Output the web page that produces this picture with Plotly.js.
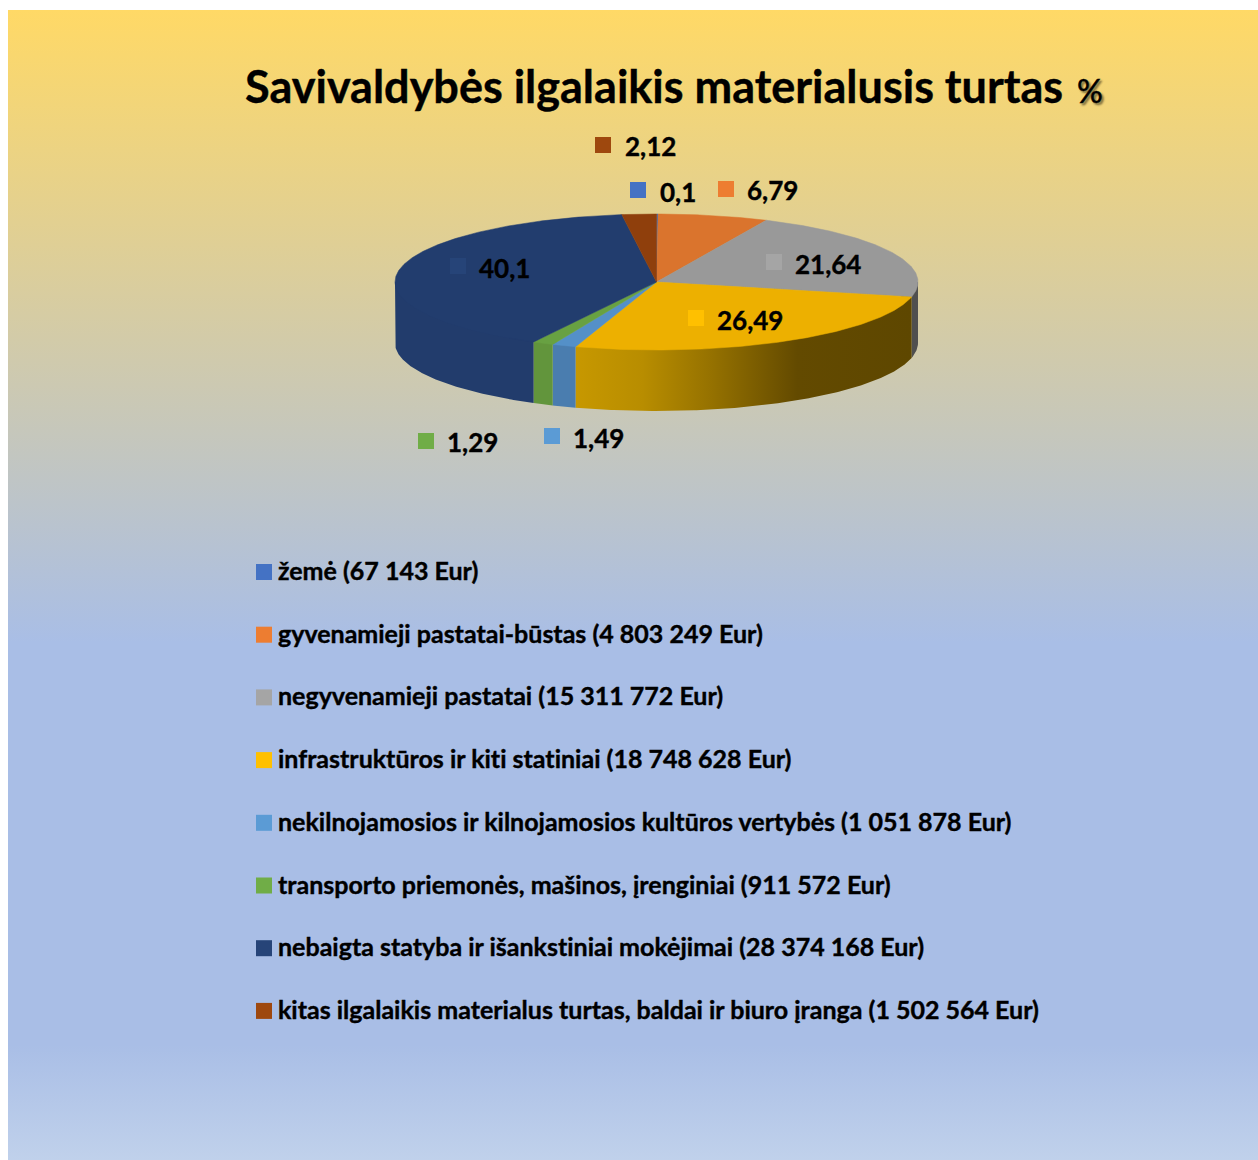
<!DOCTYPE html>
<html>
<head>
<meta charset="utf-8">
<script src="https://cdn.plot.ly/plotly-3.0.1.min.js"></script>
<style>
html,body{margin:0;padding:0;background:#fff;width:1258px;height:1160px;overflow:hidden}
#bg{position:absolute;left:8px;top:10px;width:1250px;height:1150px;
background:linear-gradient(180deg,#FFD966 0%,#A9BEE6 55%,#A9BEE6 90%,#C0D1EB 100%)}
#chart{position:absolute;left:0;top:0;width:1258px;height:1160px}
svg text{font-variant-ligatures:none;font-feature-settings:"liga" 0,"clig" 0;stroke:#000;stroke-width:.4px}
</style>
</head>
<body>
<div id="bg"></div>
<div id="chart"></div>
<script>
// ---------- data ----------
const categories = ["žemė (67 143 Eur)","gyvenamieji pastatai-būstas (4 803 249 Eur)","negyvenamieji pastatai (15 311 772 Eur)","infrastruktūros ir kiti statiniai (18 748 628 Eur)","nekilnojamosios ir kilnojamosios kultūros vertybės (1 051 878 Eur)","transporto priemonės, mašinos, įrenginiai (911 572 Eur)","nebaigta statyba ir išankstiniai mokėjimai (28 374 168 Eur)","kitas ilgalaikis materialus turtas, baldai ir biuro įranga (1 502 564 Eur)"];
const percents = [0.1,6.79,21.64,26.49,1.49,1.29,40.1,2.12];
const percentLabels = ["0,1","6,79","21,64","26,49","1,49","1,29","40,1","2,12"];

// ---------- styles and positions ----------
const keyColors = ["#4472C4","#ED7D31","#A5A5A5","#FFC000","#5B9BD5","#70AD47","#264478","#9E480E"];
const topColors = ["#3F69B4","#DA742D","#999999","#EDB000","#5490C8","#68A142","#223D6E","#8F3F0C"];
const wallColors = ["#3A60A5","#C56826","#4F4F4F","#C49500","#4A7DAF","#62953C","#223C6C","#7F380A"];
const labelKeyX = [638,726,774,696,552,426,458,603];
const labelKeyY = [190,189,262,318,436,441,266,145];
const labelTextX = [660,747,795,717,573,447,479,625];
const labelTextY = [191.5,189.5,263.5,319.5,437.5,441.5,267.5,145.5];
const legendKeyX = 264, legendTextX = 278, legendTop = 572, legendStep = 62.7;
const cx = 656.5, cy = 282, rx = 261.5, ry = 68, depth = 61, hiddenInset = 0.96;
const FONT = "Lato, Carlito, 'Open Sans', sans-serif";

// ---------- geometry from values ----------
const total = percents.reduce((a,b)=>a+b,0);
const px = (t,k=1) => cx + k*rx*Math.sin(t);
const py = (t,k=1) => cy - k*ry*Math.cos(t);
function arc(a,b){
  const n = Math.max(2,Math.ceil(Math.abs(b-a)/0.01));
  const out=[];
  for(let i=0;i<=n;i++) out.push(a+(b-a)*i/n);
  return out;
}
let acc = 0;
const spans = percents.map(v=>{const a=acc/total*2*Math.PI; acc+=v; return [a,acc/total*2*Math.PI];});

const traces = [];
// side walls (front half only); their upper edge runs hidden beneath the top face
spans.forEach((s,i)=>{
  const a=Math.max(s[0],Math.PI/2), b=Math.min(s[1],1.5*Math.PI);
  if(b<=a) return;
  const ts=arc(a,b), rev=ts.slice().reverse();
  const t={x:ts.map(u=>px(u,hiddenInset)).concat([px(b)],rev.map(u=>px(u)),[px(a)]),
           y:ts.map(u=>py(u,hiddenInset)).concat([py(b)],rev.map(u=>py(u)+depth),[py(a)]),
           mode:"lines",fill:"toself",line:{width:0},
           fillcolor:wallColors[i],hoverinfo:"skip",showlegend:false};
  if(i===3){
    t.fillgradient={type:"horizontal",start:px(b),stop:px(a),
      colorscale:[[0,"#C79800"],[0.2,"#B88D00"],[0.4,"#967200"],[0.66,"#634A00"],[1,"#5E4700"]]};
  }
  traces.push(t);
});
// top faces
spans.forEach((s,i)=>{
  const ts=arc(s[0],s[1]);
  traces.push({x:[cx].concat(ts.map(u=>px(u)),[cx]),y:[cy].concat(ts.map(u=>py(u)),[cy]),
    mode:"lines",fill:"toself",line:{width:0.5,color:topColors[i]},fillcolor:topColors[i],
    name:categories[i],text:percentLabels[i],hoverinfo:"name+text",showlegend:false});
});
// value labels: key squares
traces.push({x:labelKeyX,y:labelKeyY,mode:"markers",
  marker:{symbol:"square",size:16,color:keyColors,line:{width:0}},hoverinfo:"skip",showlegend:false});
// key of the chart: squares
traces.push({x:categories.map(()=>legendKeyX),y:categories.map((c,i)=>legendTop+i*legendStep),mode:"markers",
  marker:{symbol:"square",size:16,color:keyColors,line:{width:0}},hoverinfo:"skip",showlegend:false});

const annotations = [];
percentLabels.forEach((t,i)=>annotations.push({x:labelTextX[i],y:labelTextY[i],xref:"x",yref:"y",text:t,
  showarrow:false,xanchor:"left",yanchor:"middle",borderpad:0,borderwidth:0,
  font:{family:FONT,size:26,color:"#000",weight:700}}));
categories.forEach((t,i)=>annotations.push({x:legendTextX,y:legendTop+i*legendStep-2,xref:"x",yref:"y",text:t,
  showarrow:false,xanchor:"left",yanchor:"middle",borderpad:0,borderwidth:0,
  font:{family:FONT,size:25,color:"#000",weight:700}}));
annotations.push({x:1075,y:90,xref:"x",yref:"y",text:"%",showarrow:false,xanchor:"left",yanchor:"middle",
  font:{family:FONT,size:32,color:"#000",weight:500,shadow:"2px 2px 2px rgba(0,0,0,0.45)"}});

const layout = {
  width:1258,height:1160,
  margin:{l:0,r:0,t:0,b:0},
  paper_bgcolor:"rgba(0,0,0,0)",plot_bgcolor:"rgba(0,0,0,0)",
  showlegend:false,
  title:{text:"Savivaldybės ilgalaikis materialusis turtas",x:245/1258,xanchor:"left",xref:"paper",
    y:1-87/1160,yanchor:"middle",yref:"paper",pad:{t:0,b:0,l:0,r:0},
    font:{family:FONT,size:45,color:"#000",weight:700}},
  xaxis:{range:[0,1258],visible:false,fixedrange:true},
  yaxis:{range:[1160,0],visible:false,fixedrange:true},
  annotations
};
Plotly.newPlot("chart",traces,layout,{displayModeBar:false,staticPlot:false});
</script>
</body>
</html>
